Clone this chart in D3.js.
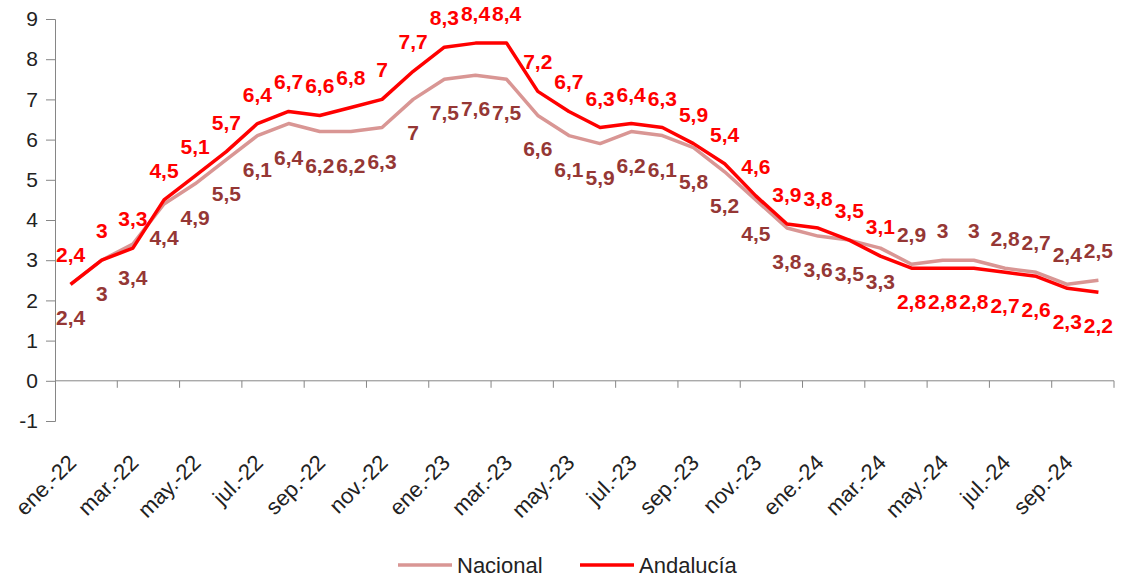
<!DOCTYPE html>
<html>
<head>
<meta charset="utf-8">
<script src="https://cdn.jsdelivr.net/npm/d3@7"></script>
<style>
  body { margin: 0; background: #fff; }
  svg { font-family: "Liberation Sans", Arial, sans-serif; }
</style>
</head>
<body>
<svg id="chart"></svg>
<script>
// months ene.-22 .. oct.-24
const monthNames = ['ene.', 'feb.', 'mar.', 'abr.', 'may.', 'jun.', 'jul.', 'ago.', 'sep.', 'oct.', 'nov.', 'dic.'];
const years = ['22', '23', '24'];
const months = [];
years.forEach(y => monthNames.forEach(m => months.push(m + '-' + y)));
months.splice(34);

const nacional = [2.4, 3, 3.4, 4.4, 4.9, 5.5, 6.1, 6.4, 6.2, 6.2, 6.3, 7,
                  7.5, 7.6, 7.5, 6.6, 6.1, 5.9, 6.2, 6.1, 5.8, 5.2, 4.5, 3.8,
                  3.6, 3.5, 3.3, 2.9, 3, 3, 2.8, 2.7, 2.4, 2.5];
const andalucia = [2.4, 3, 3.3, 4.5, 5.1, 5.7, 6.4, 6.7, 6.6, 6.8, 7, 7.7,
                   8.3, 8.4, 8.4, 7.2, 6.7, 6.3, 6.4, 6.3, 5.9, 5.4, 4.6, 3.9,
                   3.8, 3.5, 3.1, 2.8, 2.8, 2.8, 2.7, 2.6, 2.3, 2.2];
const yTicks = [-1, 0, 1, 2, 3, 4, 5, 6, 7, 8, 9];

// from this month on the labels swap sides (Nacional above, Andalucía below)
const swapMonth = 'abr.-24';

const width = 1144, height = 580;
const margin = { top: 19, right: 30, bottom: 159, left: 55 };
const innerW = width - margin.left - margin.right;
const innerH = height - margin.top - margin.bottom;

const svg = d3.select('#chart').attr('width', width).attr('height', height);
const chart = svg.append('g').attr('transform', `translate(${margin.left},${margin.top})`);

const x = d3.scaleBand().domain(months).range([0, innerW]);
const y = d3.scaleLinear().domain([-1, 9]).range([innerH, 0]);
const cx = d => x(d) + x.bandwidth() / 2;
const fmt = v => String(v).replace('.', ',');
const axisColor = '#868686';

// y axis
const yAxis = chart.append('g')
    .call(d3.axisLeft(y).tickValues(yTicks).tickSize(9).tickPadding(8).tickFormat(d => d));
yAxis.select('.domain').attr('stroke', axisColor);
yAxis.selectAll('.tick line').attr('stroke', axisColor);
yAxis.selectAll('.tick text').attr('fill', '#222').style('font-size', '21px');

// x axis line at zero, ticks every 2 months on band boundaries
const x0 = y(0);
chart.append('line')
    .attr('x1', 0).attr('x2', innerW).attr('y1', x0).attr('y2', x0)
    .attr('stroke', axisColor);
const boundaries = d3.range(2, months.length + 1, 2);
chart.selectAll('.xtick').data(boundaries).join('line')
    .attr('class', 'xtick')
    .attr('x1', i => i * x.step()).attr('x2', i => i * x.step())
    .attr('y1', x0).attr('y2', x0 + 7)
    .attr('stroke', axisColor);

// x labels, every other month, rotated
chart.selectAll('.xlabel').data(months.filter((d, i) => i % 2 === 0)).join('text')
    .attr('class', 'xlabel')
    .attr('text-anchor', 'end')
    .attr('transform', d => `translate(${cx(d) + 7},${innerH + 43}) rotate(-45)`)
    .attr('fill', '#222')
    .style('font-size', '22px')
    .text(d => d);

// lines
const line = vals => d3.line().x((d, i) => cx(months[i])).y(d => y(d))(vals);
chart.append('path').attr('d', line(nacional))
    .attr('fill', 'none').attr('stroke', '#D99694').attr('stroke-width', 3.5)
    .attr('stroke-linejoin', 'round');
chart.append('path').attr('d', line(andalucia))
    .attr('fill', 'none').attr('stroke', '#FF0000').attr('stroke-width', 3.5)
    .attr('stroke-linejoin', 'round');

// data labels
const swapIdx = months.indexOf(swapMonth);
function labels(vals, color, above) {
  chart.append('g').selectAll('text').data(vals).join('text')
      .attr('x', (d, i) => cx(months[i]))
      .attr('y', (d, i) => {
        const up = i >= swapIdx ? !above : above;
        return up ? y(d) - 22 : y(d) + 41;
      })
      .attr('text-anchor', 'middle')
      .attr('fill', color)
      .style('font-size', '21px')
      .style('font-weight', 'bold')
      .text(d => fmt(d));
}
labels(nacional, '#953735', false);
labels(andalucia, '#FF0000', true);

// legend
const legend = svg.append('g').attr('transform', `translate(0,565)`);
const items = [
  { name: 'Nacional', color: '#D99694', x: 398 },
  { name: 'Andalucía', color: '#FF0000', x: 580 }
];
items.forEach(it => {
  legend.append('line')
      .attr('x1', it.x).attr('x2', it.x + 54).attr('y1', 0).attr('y2', 0)
      .attr('stroke', it.color).attr('stroke-width', 3.5);
  legend.append('text')
      .attr('x', it.x + 59).attr('y', 8)
      .attr('fill', '#222')
      .style('font-size', '22px')
      .text(it.name);
});
</script>
</body>
</html>
